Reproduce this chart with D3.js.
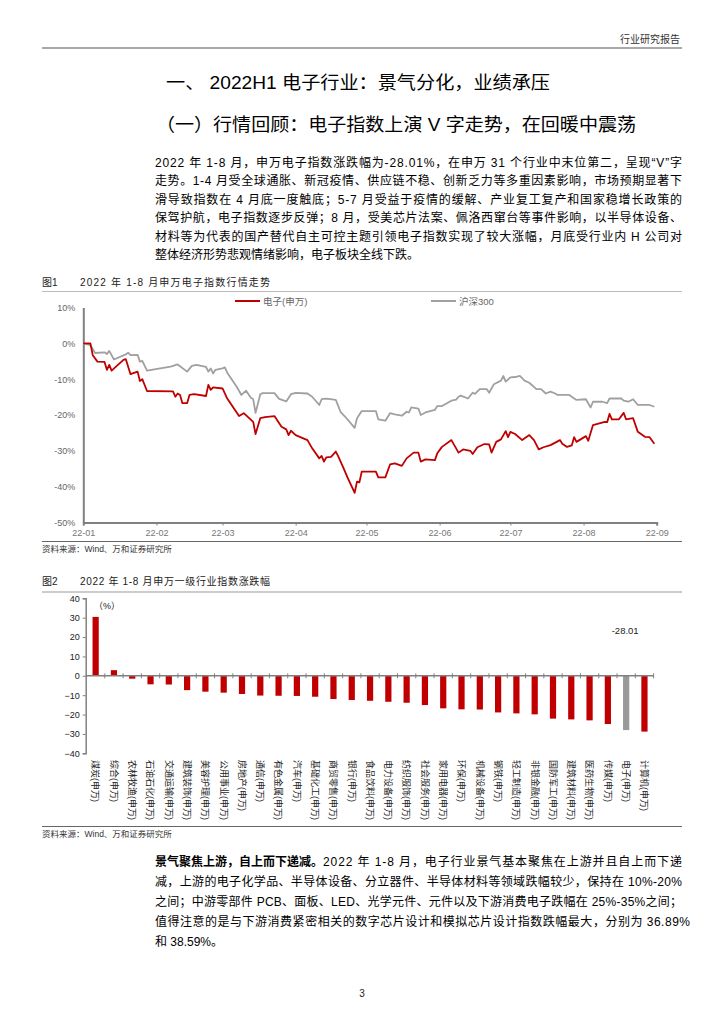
<!DOCTYPE html>
<html><head><meta charset="utf-8">
<script src="https://cdn.jsdelivr.net/npm/d3@7"></script>
<style>body{margin:0;background:#fff;} svg{display:block;}</style>
</head><body><svg id="page" width="724" height="1024"></svg>
<script>
// ---------------- DATA ----------------
const headerText = "行业研究报告";
const sectionTitle = "一、 2022H1 电子行业：景气分化，业绩承压";
const subTitle = "（一）行情回顾：电子指数上演 V 字走势，在回暖中震荡";
const para1Lines = [
  "2022 年 1-8 月，申万电子指数涨跌幅为-28.01%，在申万 31 个行业中末位第二，呈现“V”字",
  "走势。1-4 月受全球通胀、新冠疫情、供应链不稳、创新乏力等多重因素影响，市场预期显著下",
  "滑导致指数在 4 月底一度触底；5-7 月受益于疫情的缓解、产业复工复产和国家稳增长政策的",
  "保驾护航，电子指数逐步反弹；8 月，受美芯片法案、佩洛西窜台等事件影响，以半导体设备、",
  "材料等为代表的国产替代自主可控主题引领电子指数实现了较大涨幅，月底受行业内 H 公司对",
  "整体经济形势悲观情绪影响，电子板块全线下跌。"
];
const fig1Label = "图1", fig1Title = "2022 年 1-8 月申万电子指数行情走势";
const fig2Label = "图2", fig2Title = "2022 年 1-8 月申万一级行业指数涨跌幅";
const sourceText = "资料来源：Wind、万和证券研究所";
const para2Bold = "景气聚焦上游，自上而下递减。";
const para2Lines = [
  "2022 年 1-8 月，电子行业景气基本聚焦在上游并且自上而下递",
  "减，上游的电子化学品、半导体设备、分立器件、半导体材料等领域跌幅较少，保持在 10%-20%",
  "之间；中游零部件 PCB、面板、LED、光学元件、元件以及下游消费电子跌幅在 25%-35%之间；",
  "值得注意的是与下游消费紧密相关的数字芯片设计和模拟芯片设计指数跌幅最大，分别为 36.89%",
  "和 38.59%。"
];
const pageNumber = "3";

const seriesNames = ["电子(申万)", "沪深300"];
const dianziSeries = [
["2022-01-01",0],["2022-01-04",0],["2022-01-05",-3.3],["2022-01-07",-5.1],["2022-01-10",-5.2],["2022-01-11",-7.4],["2022-01-12",-6.0],["2022-01-13",-7.6],["2022-01-18",-4.6],["2022-01-19",-4.4],["2022-01-21",-8.6],["2022-01-24",-7.9],["2022-01-25",-10.5],["2022-01-26",-10.0],["2022-01-28",-13.3],
["2022-02-08",-13.4],["2022-02-09",-14.9],["2022-02-10",-14.0],["2022-02-11",-14.4],["2022-02-12",-16.7],["2022-02-14",-16.7],["2022-02-15",-14.4],["2022-02-17",-14.2],["2022-02-22",-14.7],["2022-02-23",-11.6],["2022-02-24",-13.0],["2022-02-25",-12.3],
["2022-03-01",-12.6],["2022-03-03",-15.4],["2022-03-08",-20.3],["2022-03-10",-19.5],["2022-03-14",-21.9],["2022-03-15",-25.3],["2022-03-17",-20.9],["2022-03-19",-20.6],["2022-03-23",-20.3],["2022-03-26",-23.3],["2022-03-28",-24.0],["2022-03-29",-25.6],["2022-03-30",-24.4],
["2022-04-01",-25.6],["2022-04-06",-27.0],["2022-04-08",-29.3],["2022-04-11",-32.1],["2022-04-12",-31.4],["2022-04-13",-33.0],["2022-04-14",-31.8],["2022-04-16",-31.7],["2022-04-18",-30.2],["2022-04-19",-31.5],["2022-04-21",-34.4],["2022-04-23",-37.5],["2022-04-26",-41.7],["2022-04-27",-38.6],["2022-04-28",-38.8],["2022-04-29",-35.8],
["2022-05-05",-35.8],["2022-05-06",-37.4],["2022-05-09",-37.4],["2022-05-11",-33.8],["2022-05-13",-33.5],["2022-05-16",-34.2],["2022-05-18",-32.1],["2022-05-21",-30.5],["2022-05-23",-30.5],["2022-05-24",-33.0],["2022-05-26",-32.4],["2022-05-30",-32.6],["2022-05-31",-30.7],
["2022-06-02",-28.9],["2022-06-06",-27.0],["2022-06-08",-29.3],["2022-06-09",-30.5],["2022-06-11",-29.6],["2022-06-14",-30.0],["2022-06-15",-30.9],["2022-06-17",-29.0],["2022-06-20",-28.1],["2022-06-22",-28.2],["2022-06-23",-30.5],["2022-06-25",-27.5],["2022-06-27",-26.8],["2022-06-29",-24.5],["2022-06-30",-26.2],
["2022-07-01",-24.7],["2022-07-03",-25.3],["2022-07-06",-27.0],["2022-07-09",-25.6],["2022-07-11",-27.0],["2022-07-13",-29.6],["2022-07-15",-29.0],["2022-07-18",-28.4],["2022-07-22",-27.0],["2022-07-23",-28.0],["2022-07-25",-28.9],["2022-07-27",-28.5],["2022-07-28",-26.2],["2022-07-29",-27.5],
["2022-08-02",-25.9],["2022-08-03",-27.2],["2022-08-05",-22.8],["2022-08-10",-21.9],["2022-08-11",-22.0],["2022-08-12",-19.7],["2022-08-13",-21.2],["2022-08-16",-21.2],["2022-08-18",-19.4],["2022-08-19",-21.2],["2022-08-22",-20.9],["2022-08-24",-24.7],["2022-08-27",-26.1],["2022-08-29",-26.2],["2022-08-31",-28.01]
];
const hs300Series = [
["2022-01-01",0],["2022-01-04",-0.5],["2022-01-06",-2.7],["2022-01-10",-2.5],["2022-01-11",-3.0],["2022-01-12",-2.1],["2022-01-14",-4.5],["2022-01-19",-3.1],["2022-01-20",-2.6],["2022-01-21",-3.3],["2022-01-24",-3.2],["2022-01-25",-5.1],["2022-01-26",-4.9],["2022-01-28",-7.6],
["2022-02-07",-6.5],["2022-02-10",-5.9],["2022-02-14",-7.9],["2022-02-16",-6.3],["2022-02-18",-6.0],["2022-02-22",-6.6],["2022-02-23",-7.9],["2022-02-24",-7.0],["2022-02-25",-8.4],["2022-02-26",-7.4],
["2022-03-01",-7.0],["2022-03-02",-6.7],["2022-03-03",-8.2],["2022-03-07",-12.1],["2022-03-09",-14.4],["2022-03-11",-13.2],["2022-03-13",-15.2],["2022-03-14",-15.6],["2022-03-15",-19.4],["2022-03-17",-14.2],["2022-03-18",-13.9],["2022-03-23",-13.9],["2022-03-25",-15.5],["2022-03-28",-16.2],["2022-03-30",-14.2],
["2022-04-01",-13.8],["2022-04-06",-14.0],["2022-04-08",-14.9],["2022-04-11",-17.2],["2022-04-12",-15.6],["2022-04-14",-15.4],["2022-04-18",-15.8],["2022-04-20",-19.1],["2022-04-22",-20.5],["2022-04-26",-23.6],["2022-04-27",-20.9],["2022-04-29",-18.9],
["2022-05-05",-18.9],["2022-05-06",-21.2],["2022-05-09",-21.6],["2022-05-11",-19.5],["2022-05-13",-19.8],["2022-05-16",-20.2],["2022-05-18",-19.1],["2022-05-19",-19.3],["2022-05-20",-17.9],["2022-05-23",-18.2],["2022-05-24",-20.0],["2022-05-26",-19.3],["2022-05-30",-18.6],["2022-05-31",-17.5],
["2022-06-02",-17.5],["2022-06-06",-16.0],["2022-06-08",-15.7],["2022-06-09",-14.9],["2022-06-10",-14.6],["2022-06-13",-15.4],["2022-06-15",-13.8],["2022-06-16",-14.1],["2022-06-18",-12.8],["2022-06-21",-12.8],["2022-06-22",-13.8],["2022-06-24",-11.4],["2022-06-27",-10.4],["2022-06-28",-9.1],["2022-06-29",-10.7],
["2022-07-01",-9.5],["2022-07-03",-9.4],["2022-07-05",-9.1],["2022-07-07",-10.4],["2022-07-09",-11.0],["2022-07-12",-12.8],["2022-07-14",-12.8],["2022-07-16",-14.0],["2022-07-18",-13.5],["2022-07-20",-14.0],["2022-07-21",-14.4],["2022-07-26",-14.4],["2022-07-27",-14.9],["2022-07-29",-15.8],
["2022-08-02",-15.6],["2022-08-04",-17.9],["2022-08-05",-16.3],["2022-08-09",-16.3],["2022-08-11",-16.7],["2022-08-12",-15.4],["2022-08-17",-15.4],["2022-08-18",-16.0],["2022-08-20",-16.3],["2022-08-22",-15.6],["2022-08-24",-17.2],["2022-08-29",-17.2],["2022-08-31",-17.7]
];
const monthTickDates = ["2022-01-01","2022-02-01","2022-03-01","2022-04-01","2022-05-01","2022-06-01","2022-07-01","2022-08-01","2022-09-01"];
const monthTickLabels = ["22-01","22-02","22-03","22-04","22-05","22-06","22-07","22-08","22-09"];
const lineYTicks = [10, 0, -10, -20, -30, -40, -50];

const industries = ["煤炭(申万)","综合(申万)","农林牧渔(申万)","石油石化(申万)","交通运输(申万)","建筑装饰(申万)","美容护理(申万)","公用事业(申万)","房地产(申万)","通信(申万)","有色金属(申万)","汽车(申万)","基础化工(申万)","商贸零售(申万)","银行(申万)","食品饮料(申万)","电力设备(申万)","纺织服饰(申万)","社会服务(申万)","家用电器(申万)","环保(申万)","机械设备(申万)","钢铁(申万)","轻工制造(申万)","非银金融(申万)","国防军工(申万)","建筑材料(申万)","医药生物(申万)","传媒(申万)","电子(申万)","计算机(申万)"];
const industryChanges = [30.4, 2.9, -1.5, -4.4, -4.5, -7.4, -8.2, -8.7, -9.4, -10.2, -10.3, -10.4, -10.8, -12.0, -12.5, -12.9, -13.4, -13.9, -15.1, -16.8, -17.3, -17.4, -18.9, -19.4, -19.9, -22.1, -22.5, -23.0, -24.9, -28.01, -28.8];
const highlightIndustry = "电子(申万)";
const barYTicks = [40, 30, 20, 10, 0, -10, -20, -30, -40];

// ---------------- STYLE ----------------
const FONT = "'Liberation Sans','Noto Sans CJK SC',sans-serif";
const RED = "#C00000", GRAY = "#A0A0A0", AXIS = "#808080";
const svg = d3.select("#page");
svg.append("rect").attr("width",724).attr("height",1024).attr("fill","#fff");
const parse = d3.timeParse("%Y-%m-%d");

function txt(x, y, s, size, opt = {}) {
  const t = svg.append("text").attr("x", x).attr("y", y).text(s)
    .attr("font-family", FONT).attr("font-size", size)
    .attr("fill", opt.fill || "#000")
    .attr("text-anchor", opt.anchor || "start")
    .attr("font-weight", opt.weight || "normal");
  if (opt.len) t.attr("textLength", opt.len).attr("lengthAdjust", "spacingAndGlyphs");
  return t;
}
function hline(x1, x2, y, color, w) {
  svg.append("line").attr("x1",x1).attr("x2",x2).attr("y1",y).attr("y2",y)
    .attr("stroke",color).attr("stroke-width",w);
}

// header
txt(680, 43, headerText, 10, {anchor: "end", fill: "#333"});
hline(42, 682, 48, "#555", 1.2);
txt(166, 89, sectionTitle, 18, {len: 384});
txt(156, 131, subTitle, 18, {len: 480});

// paragraph 1
const P_X = 155, P_W = 527;
para1Lines.forEach((s, i) => {
  const last = i === para1Lines.length - 1;
  txt(P_X, 167 + i * 18.4, s, 12, last ? {} : {len: P_W}).attr("lengthAdjust", "spacing");
});

// ---------------- FIGURE 1 ----------------
txt(42, 286, fig1Label, 10, {fill: "#222"});
txt(80, 286, fig1Title, 10, {fill: "#222", len: 190}).attr("lengthAdjust", "spacing");
hline(42, 682, 291.5, "#bbb", 1);
const x1 = d3.scaleTime().domain([parse("2022-01-01"), parse("2022-09-01")]).range([83.3, 656.7]);
const y1 = d3.scaleLinear().domain([-50, 10]).range([522.5, 307.5]);

const gy1 = svg.append("g").attr("transform", "translate(83.3,0)")
  .call(d3.axisLeft(y1).tickValues(lineYTicks).tickSize(0).tickPadding(8).tickFormat(d => d + "%"));
gy1.select(".domain").attr("stroke", AXIS).attr("stroke-width", 2);
gy1.selectAll("text").attr("font-family", FONT).attr("font-size", 9).attr("fill", "#666");

const gx1 = svg.append("g").attr("transform", "translate(0,522.5)")
  .call(d3.axisBottom(x1).tickValues(monthTickDates.map(parse)).tickSize(3).tickPadding(4)
    .tickFormat((d, i) => monthTickLabels[i]));
gx1.select(".domain").attr("stroke", AXIS).attr("stroke-width", 2);
gx1.selectAll(".tick line").attr("stroke", AXIS);
gx1.selectAll("text").attr("font-family", FONT).attr("font-size", 9).attr("fill", "#777");

const line1 = d3.line().x(d => x1(parse(d[0]))).y(d => y1(d[1]));
svg.append("path").datum(hs300Series).attr("d", line1).attr("fill", "none")
  .attr("stroke", GRAY).attr("stroke-width", 1.8).attr("stroke-linejoin", "round");
svg.append("path").datum(dianziSeries).attr("d", line1).attr("fill", "none")
  .attr("stroke", RED).attr("stroke-width", 1.8).attr("stroke-linejoin", "round");

// legend
[[235, RED], [431, GRAY]].forEach((l, i) => {
  svg.append("line").attr("x1", l[0]).attr("x2", l[0] + 25).attr("y1", 301).attr("y2", 301)
    .attr("stroke", l[1]).attr("stroke-width", 2);
  txt(l[0] + 28, 304.5, seriesNames[i], 9.5, {fill: "#666"});
});
hline(42, 682, 541.5, "#666", 1);
txt(42, 552, sourceText, 8.5, {fill: "#333"});

// ---------------- FIGURE 2 ----------------
txt(42, 585, fig2Label, 10, {fill: "#222"});
txt(80, 585, fig2Title, 10, {fill: "#222", len: 190}).attr("lengthAdjust", "spacing");
hline(42, 682, 592, "#999", 1.2);
const x2 = d3.scaleBand().domain(industries).range([86.5, 653.6]).paddingInner(0.66).paddingOuter(0.33);
const y2 = d3.scaleLinear().domain([-40, 40]).range([753.3, 598.3]);

const gy2 = svg.append("g").attr("transform", "translate(85.7,0)")
  .call(d3.axisLeft(y2).tickValues(barYTicks).tickSize(3).tickPadding(3));
gy2.select(".domain").attr("stroke", AXIS).attr("stroke-width", 1.5);
gy2.selectAll(".tick line").attr("stroke", AXIS);
gy2.selectAll("text").attr("font-family", FONT).attr("font-size", 9).attr("fill", "#222");

svg.selectAll("rect.bar").data(industries).enter().append("rect").attr("class", "bar")
  .attr("x", d => x2(d))
  .attr("width", x2.bandwidth())
  .attr("y", (d, i) => y2(Math.max(0, industryChanges[i])))
  .attr("height", (d, i) => Math.abs(y2(industryChanges[i]) - y2(0)))
  .attr("fill", d => d === highlightIndustry ? "#999" : RED);

// x axis line at zero with boundary ticks
const r2 = x2.range(), step2 = x2.step();
svg.append("line").attr("x1", 85.7).attr("x2", r2[1]).attr("y1", y2(0)).attr("y2", y2(0))
  .attr("stroke", AXIS).attr("stroke-width", 1.5);
svg.selectAll("line.btick").data(d3.range(industries.length + 1)).enter().append("line")
  .attr("class", "btick")
  .attr("x1", i => r2[0] + i * step2).attr("x2", i => r2[0] + i * step2)
  .attr("y1", y2(0) - 2.5).attr("y2", y2(0) + 2.5).attr("stroke", AXIS).attr("stroke-width", 1);

// category labels (rotated)
svg.selectAll("text.cat").data(industries).enter().append("text").attr("class", "cat")
  .attr("transform", d => `translate(${x2(d) + x2.bandwidth() / 2},760) rotate(90)`)
  .attr("dy", "0.35em").attr("font-family", FONT).attr("font-size", 9).attr("fill", "#222")
  .text(d => d);

txt(94, 609, "（%）", 9, {fill: "#222"});
const hi = industries.indexOf(highlightIndustry);
txt(x2(highlightIndustry) + x2.bandwidth() / 2 - 1, y2(0) - 42, industryChanges[hi].toFixed(2), 9.5, {anchor: "middle", fill: "#222"});

hline(42, 682, 826.5, "#666", 1);
txt(42, 837, sourceText, 8.5, {fill: "#333"});

// ---------------- PARAGRAPH 2 ----------------
const bold = txt(P_X, 866, para2Bold, 12, {weight: "bold"});
const bw = bold.node().getComputedTextLength();
para2Lines.forEach((s, i) => {
  const y = 866 + i * 20;
  if (i === 0) {
    txt(P_X + bw, y, s, 12, {len: P_W - bw}).attr("lengthAdjust", "spacing");
  } else if (i === para2Lines.length - 1) {
    txt(P_X, y, s, 12);
  } else {
    txt(P_X, y, s, 12, {len: i === 3 ? P_W + 8 : P_W}).attr("lengthAdjust", "spacing");
  }
});

txt(362, 997, pageNumber, 10, {anchor: "middle", fill: "#222"});
</script>
</body></html>
